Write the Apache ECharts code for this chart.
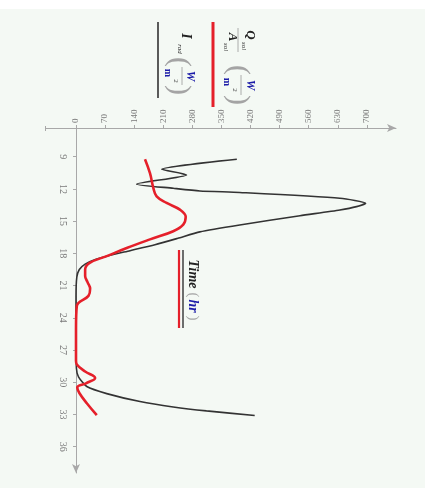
<!DOCTYPE html>
<html>
<head>
<meta charset="utf-8">
<script src="https://cdn.jsdelivr.net/npm/echarts@6/dist/echarts.min.js"></script>
<style>
  html, body { margin: 0; padding: 0; background: #ffffff; }
  #wrap { position: absolute; left: 0; top: 9px; width: 425px; height: 479px; background: #f4f9f4; }
  #chart { position: absolute; left: 0; top: -9px; width: 425px; height: 488px; }
</style>
</head>
<body>
<div id="wrap"><div id="chart"></div></div>
<script>
// Time of day (hr) and irradiance values (W/m^2)
const radTime = [9.24, 10.17, 10.7, 11.56, 11.94, 12.19, 12.33, 12.87, 13.33, 13.65, 13.96, 14.5, 15.36, 16.0, 16.6, 17.2, 17.75, 18.2, 18.6, 19.0, 19.5, 20.2, 22, 25, 28.7, 29.5, 30.4, 31.06, 31.8, 32.3, 32.67, 33.1];
const radValue = [387, 206, 266, 146, 234, 298, 394, 635, 697, 675, 635, 539, 394, 298, 245, 190, 130, 80, 45, 22, 8, 2, 0, 0, 1, 6, 26, 74, 154, 234, 314, 430];

const solTime = [9.24, 10.54, 11.9, 12.7, 13.31, 13.93, 14.6, 15.32, 15.94, 16.7, 17.5, 18.26, 18.87, 19.5, 20.1, 20.7, 21.3, 21.96, 22.9, 25, 28.0, 28.35, 29.0, 29.6, 30.1, 30.5, 31.0, 31.96, 33.07];
const solValue = [166, 178, 186, 194, 218, 250, 264, 258, 234, 178, 122, 74, 34, 22, 22, 28, 34, 30, 2, 0, 0, 2, 22, 46, 24, 3, 8, 26, 50];

const valueTicks = [0, 70, 140, 210, 280, 350, 420, 490, 560, 630, 700];
const timeTicks = [9, 12, 15, 18, 21, 24, 27, 30, 33, 36];

const pairs = (vals, times) => vals.map((v, i) => [v, times[i]]);

const R = -Math.PI / 2;
const serif = '"Liberation Serif", "DejaVu Serif", serif';
const blue = '#1c1ca8';
const grey = '#7a7a7a';
const axisGrey = '#a8a8a8';
const parenGrey = '#a4a4a4';

function txt(x, y, text, size, color, weight, italic) {
  return {
    type: 'text', x: x, y: y, rotation: R, silent: true,
    style: {
      text: text, fill: color, align: 'center', verticalAlign: 'middle',
      font: (italic ? 'italic ' : '') + (weight || 'normal') + ' ' + size + 'px ' + serif
    }
  };
}
function seg(x1, y1, x2, y2, color, w) {
  return { type: 'line', silent: true, shape: { x1: x1, y1: y1, x2: x2, y2: y2 }, style: { stroke: color, lineWidth: w } };
}
function unitBlock(cx, yTop, yBot, wX, mX, supX) {
  const mid = (yTop + yBot) / 2;
  return [
    txt(cx, yTop, '(', 30, parenGrey, 'normal', false),
    txt(cx, yBot, ')', 30, parenGrey, 'normal', false),
    txt(wX, mid, 'W', 12, blue, 'bold', true),
    seg(cx + 3, yTop + 5, cx + 3, yBot - 5, '#9a9a9a', 0.8),
    txt(mX, mid - 3, 'm', 10, blue, 'bold', false),
    txt(supX, mid + 5, '2', 7, '#444', 'normal', false)
  ];
}

const graphics = [
  // value axis continues a little to the left of the time axis
  seg(45, 128.5, 76, 128.5, axisGrey, 1),
  seg(45.5, 126, 45.5, 131, axisGrey, 1),
  // I_rad legend entry
  seg(158, 22, 158, 98, '#333', 1.6),
  txt(186, 36, 'I', 14, '#222', 'bold', true),
  txt(180, 49, 'rad', 7, '#333', 'normal', true),
  ...unitBlock(179, 62, 90, 190, 168, 176),
  // Q_sol / A_sol legend entry
  seg(213, 22, 213, 107, '#e5202a', 3),
  txt(250, 35, 'Q', 13, '#222', 'bold', true),
  txt(244, 46, 'sol', 7, '#333', 'normal', true),
  seg(238, 28, 238, 52, '#9a9a9a', 0.8),
  txt(232, 37, 'A', 13, '#222', 'bold', true),
  txt(226, 47, 'sol', 7, '#333', 'normal', true),
  ...unitBlock(238, 70, 100, 250, 227, 235),
  // time axis title
  seg(179, 250, 179, 328, '#e5202a', 2.2),
  seg(183, 250, 183, 328, '#333', 1.4),
  txt(193, 274, 'Time', 14, '#222', 'bold', true),
  txt(193, 295, '(', 15, parenGrey, 'normal', false),
  txt(193, 306, 'hr', 14, blue, 'bold', true),
  txt(193, 318, ')', 15, parenGrey, 'normal', false)
];

const chart = echarts.init(document.getElementById('chart'), null, { renderer: 'canvas' });
chart.setOption({
  backgroundColor: 'transparent',
  animation: false,
  grid: { left: 76, top: 128, width: 320, height: 345, containLabel: false },
  xAxis: {
    type: 'value', position: 'top', min: 0, max: 770,
    axisLine: { onZero: false, lineStyle: { color: axisGrey, width: 1 }, symbol: ['none', 'arrow'], symbolSize: [6, 9] },
    axisTick: { show: true, length: 3, lineStyle: { color: axisGrey }, customValues: valueTicks },
    axisLabel: { rotate: -90, margin: 5, color: grey, fontSize: 9, fontFamily: serif, customValues: valueTicks },
    splitLine: { show: false }
  },
  yAxis: {
    type: 'value', inverse: true, min: 6.33, max: 38.45,
    axisLine: { onZero: false, lineStyle: { color: axisGrey, width: 1 }, symbol: ['arrow', 'none'], symbolSize: [6, 9] },
    axisTick: { show: true, length: 3, lineStyle: { color: axisGrey }, customValues: timeTicks },
    axisLabel: {
      rotate: -90, margin: 8, color: grey, fontSize: 10, fontFamily: serif,
      align: 'center', verticalAlign: 'top', customValues: timeTicks
    },
    splitLine: { show: false }
  },
  series: [
    {
      name: 'I_rad', type: 'line', data: pairs(radValue, radTime), showSymbol: false,
      smooth: 0.2, lineStyle: { color: '#333', width: 1.6 }, z: 2
    },
    {
      name: 'Q_sol/A_sol', type: 'line', data: pairs(solValue, solTime), showSymbol: false,
      smooth: 0.4, lineStyle: { color: '#e5202a', width: 2.6 }, z: 3
    }
  ],
  graphic: graphics
});
</script>
</body>
</html>
